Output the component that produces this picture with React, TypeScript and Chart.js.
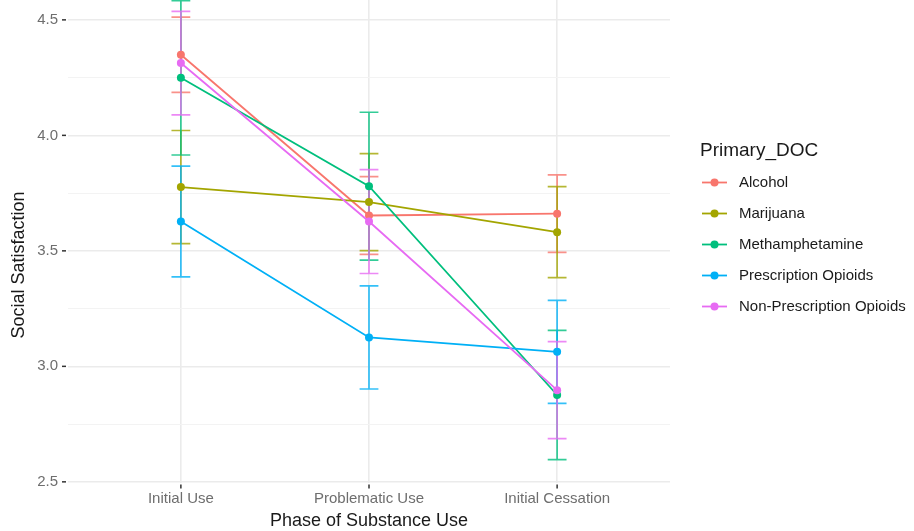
import React, { useEffect, useRef } from "react";
import { Chart, registerables } from "chart.js";

Chart.register(...registerables);

// ---- Data ----
const categories = ["Initial Use", "Problematic Use", "Initial Cessation"];
const seriesNames = [
  "Alcohol",
  "Marijuana",
  "Methamphetamine",
  "Prescription Opioids",
  "Non-Prescription Opioids",
];
const seriesColors = ["#F8766D", "#A3A500", "#00BF7D", "#00B0F6", "#E76BF3"];

const alcoholMean = [4.349, 3.653, 3.661];
const alcoholErr = [0.163, 0.168, 0.168];
const marijuanaMean = [3.776, 3.711, 3.581];
const marijuanaErr = [0.245, 0.21, 0.197];
const methMean = [4.249, 3.78, 2.876];
const methErr = [0.334, 0.32, 0.28];
const rxOpioidMean = [3.627, 3.125, 3.063];
const rxOpioidErr = [0.24, 0.223, 0.223];
const nonRxOpioidMean = [4.313, 3.627, 2.897];
const nonRxOpioidErr = [0.224, 0.225, 0.21];

const majorYTicks = [2.5, 3.0, 3.5, 4.0, 4.5];
const minorYTicks = [2.75, 3.25, 3.75, 4.25];

const xTitle = "Phase of Substance Use";
const yTitle = "Social Satisfaction";
const legendTitle = "Primary_DOC";

const means = [alcoholMean, marijuanaMean, methMean, rxOpioidMean, nonRxOpioidMean];
const errs = [alcoholErr, marijuanaErr, methErr, rxOpioidErr, nonRxOpioidErr];

const FONT = '"Liberation Sans", Arial, Helvetica, sans-serif';

function withAlpha(hex: string, a: number) {
  const r = parseInt(hex.slice(1, 3), 16);
  const g = parseInt(hex.slice(3, 5), 16);
  const b = parseInt(hex.slice(5, 7), 16);
  return `rgba(${r},${g},${b},${a})`;
}

const decorPlugin = {
  id: "ggDecor",
  beforeDatasetsDraw(chart: any) {
    const { ctx, chartArea, scales } = chart;
    const xs = scales.x;
    const ys = scales.y;
    ctx.save();
    ctx.beginPath();
    ctx.rect(chartArea.left, chartArea.top, chartArea.right - chartArea.left, chartArea.bottom - chartArea.top);
    ctx.clip();
    seriesNames.forEach((_, k) => {
      ctx.strokeStyle = withAlpha(seriesColors[k], 0.8);
      ctx.lineWidth = 1.7;
      means[k].forEach((m, i) => {
        const e = errs[k][i];
        const x = xs.getPixelForValue(i);
        const x0 = xs.getPixelForValue(i - 0.05);
        const x1 = xs.getPixelForValue(i + 0.05);
        const yt = ys.getPixelForValue(m + e);
        const yb = ys.getPixelForValue(m - e);
        ctx.beginPath();
        ctx.moveTo(x, yt);
        ctx.lineTo(x, yb);
        ctx.moveTo(x0, yt);
        ctx.lineTo(x1, yt);
        ctx.moveTo(x0, yb);
        ctx.lineTo(x1, yb);
        ctx.stroke();
      });
    });
    ctx.restore();
  },
  afterDraw(chart: any) {
    const { ctx, chartArea, scales } = chart;
    const xs = scales.x;
    const ys = scales.y;
    ctx.save();
    // tick marks
    ctx.strokeStyle = "#333333";
    ctx.lineWidth = 1.5;
    majorYTicks.forEach((v) => {
      const y = ys.getPixelForValue(v);
      ctx.beginPath();
      ctx.moveTo(chartArea.left - 6, y);
      ctx.lineTo(chartArea.left - 2, y);
      ctx.stroke();
    });
    categories.forEach((_, i) => {
      const x = xs.getPixelForValue(i);
      ctx.beginPath();
      ctx.moveTo(x, chartArea.bottom + 1.5);
      ctx.lineTo(x, chartArea.bottom + 5.5);
      ctx.stroke();
    });

    // axis titles
    ctx.fillStyle = "#1a1a1a";
    ctx.font = `18px ${FONT}`;
    ctx.textAlign = "center";
    ctx.textBaseline = "middle";
    ctx.fillText(xTitle, (chartArea.left + chartArea.right) / 2, 521);
    ctx.save();
    ctx.translate(19, 265);
    ctx.rotate(-Math.PI / 2);
    ctx.fillText(yTitle, 0, 0);
    ctx.restore();

    // legend
    const lx = 700;
    ctx.textAlign = "left";
    ctx.font = `19px ${FONT}`;
    ctx.fillText(legendTitle, lx, 151);
    ctx.font = `15px ${FONT}`;
    seriesNames.forEach((name, k) => {
      const y = 182.5 + k * 31;
      ctx.strokeStyle = seriesColors[k];
      ctx.lineWidth = 1.8;
      ctx.beginPath();
      ctx.moveTo(lx + 2, y);
      ctx.lineTo(lx + 27, y);
      ctx.stroke();
      ctx.fillStyle = seriesColors[k];
      ctx.beginPath();
      ctx.arc(lx + 14.5, y, 4, 0, Math.PI * 2);
      ctx.fill();
      ctx.fillStyle = "#1a1a1a";
      ctx.fillText(name, lx + 39, y + 0.5);
    });
    ctx.restore();
  },
};

function zeroPadding(s: any) {
  s.paddingTop = 0;
  s.paddingBottom = 0;
  s.paddingLeft = 0;
  s.paddingRight = 0;
}

export default function App() {
  const canvasRef = useRef<HTMLCanvasElement | null>(null);

  useEffect(() => {
    const canvas = canvasRef.current;
    if (!canvas) return;
    const chart = new Chart(canvas, {
      type: "line",
      data: {
        datasets: seriesNames.map((name, k) => ({
          label: name,
          data: means[k].map((m, i) => ({ x: i, y: m })),
          borderColor: seriesColors[k],
          backgroundColor: seriesColors[k],
          pointBackgroundColor: seriesColors[k],
          pointBorderColor: seriesColors[k],
          pointBorderWidth: 0,
          pointRadius: 4,
          borderWidth: 1.8,
          tension: 0,
          order: seriesNames.length - 1 - k,
        })),
      },
      options: {
        animation: false,
        responsive: false,
        maintainAspectRatio: false,
        layout: { autoPadding: false, padding: { left: 0, right: 244, top: 0, bottom: 0 } },
        plugins: {
          legend: { display: false },
          tooltip: { enabled: false },
          title: { display: false },
        },
        scales: {
          x: {
            type: "linear",
            min: -0.6,
            max: 2.6,
            afterBuildTicks: (s: any) => {
              s.ticks = categories.map((_, i) => ({ value: i }));
            },
            afterFit: (s: any) => {
              s.height = 48;
              zeroPadding(s);
            },
            ticks: {
              callback: (v: any) => categories[Number(v)] ?? "",
              font: { family: FONT, size: 15 },
              color: "#6e6e6e",
              padding: 7,
              maxRotation: 0,
              autoSkip: false,
            },
            grid: { color: "#ebebeb", lineWidth: 1.6, drawTicks: false },
            border: { display: false },
          },
          y: {
            type: "linear",
            min: 2.495,
            max: 4.586,
            afterBuildTicks: (s: any) => {
              s.ticks = [...majorYTicks, ...minorYTicks]
                .sort((a, b) => a - b)
                .map((v) => ({ value: v }));
            },
            afterFit: (s: any) => {
              s.width = 68;
              zeroPadding(s);
            },
            ticks: {
              callback: (v: any) =>
                majorYTicks.includes(Number(v)) ? Number(v).toFixed(1) : "",
              font: { family: FONT, size: 15 },
              color: "#6e6e6e",
              padding: 10,
              autoSkip: false,
            },
            grid: {
              color: (c: any) =>
                minorYTicks.includes(c.tick?.value) ? "#f3f3f3" : "#ebebeb",
              lineWidth: (c: any) => (minorYTicks.includes(c.tick?.value) ? 1 : 1.6),
              drawTicks: false,
            },
            border: { display: false },
          },
        },
      },
      plugins: [decorPlugin],
    });
    return () => chart.destroy();
  }, []);

  return (
    <div
      style={{
        position: "fixed",
        left: 0,
        top: 0,
        width: 914,
        height: 531,
        background: "#ffffff",
      }}
    >
      <canvas ref={canvasRef} width={914} height={531} style={{ width: 914, height: 531, display: "block" }} />
    </div>
  );
}
